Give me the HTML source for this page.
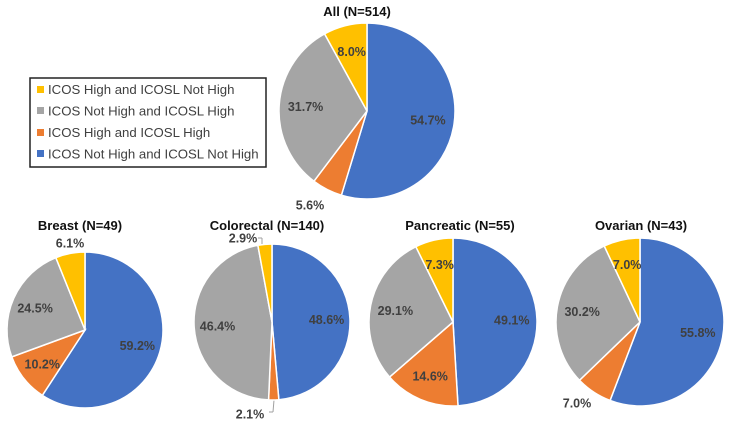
<!DOCTYPE html>
<html><head><meta charset="utf-8"><style>
html,body{margin:0;padding:0;background:#fff;}
svg{display:block;font-family:"Liberation Sans",sans-serif;}
</style></head><body>
<svg id="chart" width="732" height="421" viewBox="0 0 732 421">
<g>
<rect x="30" y="78" width="236" height="89" fill="#fff" stroke="#222" stroke-width="1.5"/>
<g><rect x="37" y="86" width="7" height="7" fill="#FFC000"/><text x="48" y="94" font-size="13.2" fill="#404040">ICOS High and ICOSL Not High</text></g>
<g><rect x="37" y="107" width="7" height="7" fill="#A5A5A5"/><text x="48" y="115.5" font-size="13.2" fill="#404040">ICOS Not High and ICOSL High</text></g>
<g><rect x="37" y="129" width="7" height="7" fill="#ED7D31"/><text x="48" y="137" font-size="13.2" fill="#404040">ICOS High and ICOSL High</text></g>
<g><rect x="37" y="150" width="7" height="7" fill="#4472C4"/><text x="48" y="158.5" font-size="13.2" fill="#404040">ICOS Not High and ICOSL Not High</text></g>
</g>
<line x1="258" y1="238" x2="262" y2="238" stroke="#a0a0a0"/>
<line x1="262" y1="238" x2="262" y2="244" stroke="#a0a0a0"/>
<line x1="269" y1="412" x2="273" y2="412" stroke="#a0a0a0"/>
<line x1="273" y1="412" x2="274" y2="400" stroke="#a0a0a0"/>
</svg>
<script>
// Series order: ICOS Not High & ICOSL Not High, ICOS High & ICOSL High, ICOS Not High & ICOSL High, ICOS High & ICOSL Not High
const pieTitles = ["All (N=514)", "Breast (N=49)", "Colorectal (N=140)", "Pancreatic (N=55)", "Ovarian (N=43)"];
const pieNames = ["all", "breast", "colorectal", "pancreatic", "ovarian"];
const allValues = [54.7, 5.6, 31.7, 8.0];
const breastValues = [59.2, 10.2, 24.5, 6.1];
const colorectalValues = [48.6, 2.1, 46.4, 2.9];
const pancreaticValues = [49.1, 14.6, 29.1, 7.3];
const ovarianValues = [55.8, 7.0, 30.2, 7.0];
const seriesNames = ["not-high-not-high", "high-high", "not-high-high", "high-not-high"];

const colors = ["#4472C4", "#ED7D31", "#A5A5A5", "#FFC000"];
const layout = [
  {cx:367, cy:111, r:88, ty:16},
  {cx:85, cy:330, r:78, ty:230},
  {cx:272, cy:322, r:78, ty:230},
  {cx:453, cy:322, r:84, ty:230},
  {cx:640, cy:322, r:84, ty:230}
];
const titleX = [357, 80, 267, 460, 641];
const labelOverride = [
  [null, [310, 205], null, null],
  [null, null, null, [70, 243]],
  [null, [250, 414], null, [243, 238]],
  [null, null, null, null],
  [null, [577, 403], null, null]
];
const NS = "http://www.w3.org/2000/svg";
const svg = document.getElementById("chart");
const data = [allValues, breastValues, colorectalValues, pancreaticValues, ovarianValues];

function pt(cx, cy, r, frac) {
  const a = frac * 2 * Math.PI;
  return [cx + r * Math.sin(a), cy - r * Math.cos(a)];
}
data.forEach((vals, i) => {
  const L = layout[i];
  const g = document.createElementNS(NS, "g");
  
  
  svg.appendChild(g);
  const total = vals.reduce((a, b) => a + b, 0);
  let acc = 0;
  vals.forEach((v, j) => {
    const f0 = acc / total, f1 = (acc + v) / total;
    const p0 = pt(L.cx, L.cy, L.r, f0), p1 = pt(L.cx, L.cy, L.r, f1);
    const large = (f1 - f0) > 0.5 ? 1 : 0;
    const path = document.createElementNS(NS, "path");
    path.setAttribute("d", `M${L.cx},${L.cy}L${p0[0]},${p0[1]}A${L.r},${L.r} 0 ${large} 1 ${p1[0]},${p1[1]}Z`);
    path.setAttribute("fill", colors[j]);
    path.setAttribute("stroke", "#fff");
    path.setAttribute("stroke-width", "1.5");
    
    
    g.appendChild(path);
    acc += v;
  });
  acc = 0;
  vals.forEach((v, j) => {
    const mid = (acc + v / 2) / total;
    let p = pt(L.cx, L.cy, L.r * 0.7, mid);
    if (labelOverride[i][j]) p = labelOverride[i][j];
    const t = document.createElementNS(NS, "text");
    t.setAttribute("x", p[0]); t.setAttribute("y", p[1] + 4.5);
    t.setAttribute("text-anchor", "middle");
    t.setAttribute("font-size", "12.5");
    t.setAttribute("font-weight", "bold");
    t.setAttribute("fill", "#404040");
    t.textContent = v.toFixed(1) + "%";
    
    
    g.appendChild(t);
    acc += v;
  });
  const title = document.createElementNS(NS, "text");
  title.setAttribute("x", titleX[i]); title.setAttribute("y", L.ty);
  title.setAttribute("text-anchor", "middle");
  title.setAttribute("font-size", "13");
  title.setAttribute("font-weight", "bold");
  title.setAttribute("fill", "#111");
  title.textContent = pieTitles[i];
  
  
  svg.appendChild(title);
});
</script>
</body></html>
